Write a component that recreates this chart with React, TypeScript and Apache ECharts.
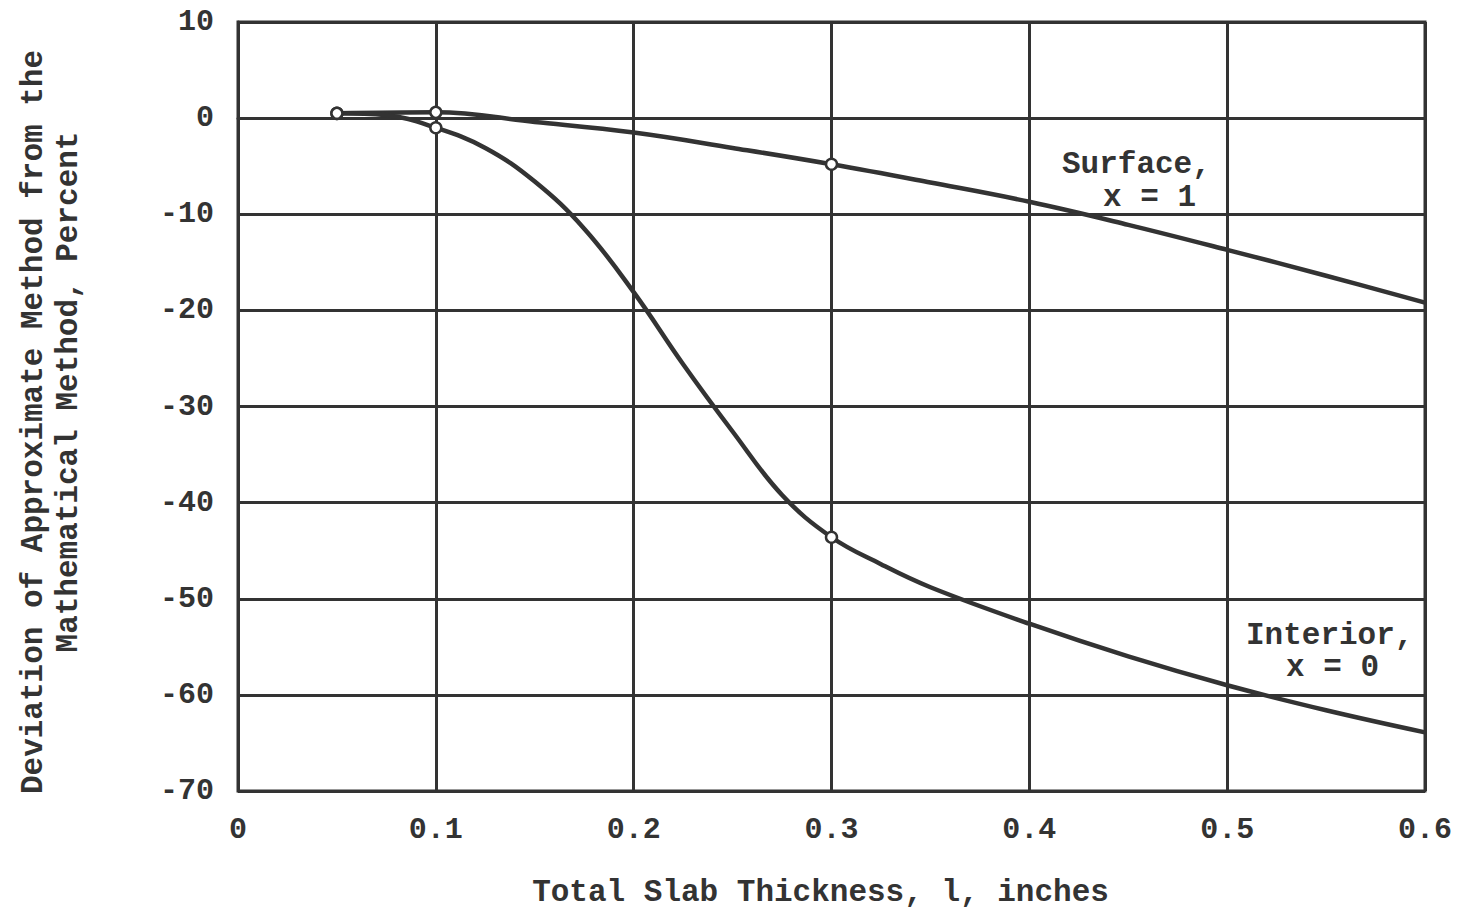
import React, { useEffect, useRef } from "react";
import * as echarts from "echarts";

// Total slab thickness, inches
const surfaceThickness = [0.05, 0.1, 0.15, 0.2, 0.25, 0.3, 0.35, 0.4, 0.45, 0.5, 0.55, 0.6];
// Deviation at the surface (x = 1), percent
const surfaceDeviation = [0.5, 0.6, -0.4, -1.5, -3.1, -4.8, -6.7, -8.7, -11.1, -13.7, -16.4, -19.2];

const interiorThickness = [0.05, 0.075, 0.1, 0.125, 0.15, 0.175, 0.2, 0.225, 0.25, 0.275, 0.3, 0.325, 0.35, 0.4, 0.45, 0.5, 0.55, 0.6];
// Deviation in the interior (x = 0), percent
const interiorDeviation = [0.5, 0.3, -1.0, -3.1, -6.6, -11.5, -18.1, -25.6, -32.6, -39.2, -43.6, -46.4, -48.8, -52.6, -56.0, -59.0, -61.6, -63.9];

// Thicknesses at which computed points are marked with open circles
const computedThickness = [0.05, 0.1, 0.3];

const xTicks = [0, 0.1, 0.2, 0.3, 0.4, 0.5, 0.6];
const yTicks = [10, 0, -10, -20, -30, -40, -50, -60, -70];

const INK = "#333333";
const FONT = "'Liberation Mono', 'DejaVu Sans Mono', monospace";

function toSeriesData(xs: number[], ys: number[]) {
  return xs.map((x, i) => {
    const marked = computedThickness.some((c) => Math.abs(c - x) < 1e-9);
    return {
      value: [x, ys[i]],
      symbol: marked ? "circle" : "none",
      symbolSize: marked ? 11 : 0,
    };
  });
}

export default function App() {
  const ref = useRef<HTMLDivElement>(null);

  useEffect(() => {
    if (!ref.current) return;
    const chart = echarts.init(ref.current, undefined, { renderer: "svg" });

    const lineStyle = { color: INK, width: 4.5 };
    const itemStyle = { color: "#ffffff", borderColor: INK, borderWidth: 2.5 };
    const labelFont = `bold 31px ${FONT}`;

    chart.setOption({
      animation: false,
      backgroundColor: "#ffffff",
      grid: {
        left: 238,
        right: 44,
        top: 22,
        bottom: 124,
        show: true,
        borderColor: INK,
        borderWidth: 3,
      },
      xAxis: {
        type: "value",
        min: xTicks[0],
        max: xTicks[xTicks.length - 1],
        interval: 0.1,
        axisLine: { show: true, lineStyle: { color: INK, width: 3 } },
        axisTick: { show: false },
        splitLine: { show: true, lineStyle: { color: INK, width: 3 } },
        axisLabel: {
          margin: 24,
          color: INK,
          fontFamily: FONT,
          fontSize: 30,
          fontWeight: "bold",
          formatter: (v: number) => (v === 0 ? "0" : v.toFixed(1)),
        },
        name: "Total Slab Thickness, l, inches",
        nameLocation: "middle",
        nameGap: 86,
        nameTextStyle: {
          color: INK,
          fontFamily: FONT,
          fontSize: 31,
          fontWeight: "bold",
          padding: [0, 22, 0, 0],
        },
      },
      yAxis: {
        type: "value",
        min: yTicks[yTicks.length - 1],
        max: yTicks[0],
        interval: 10,
        axisLine: { show: true, lineStyle: { color: INK, width: 3 } },
        axisTick: { show: false },
        splitLine: { show: true, lineStyle: { color: INK, width: 3 } },
        axisLabel: {
          margin: 24,
          color: INK,
          fontFamily: FONT,
          fontSize: 30,
          fontWeight: "bold",
        },
      },
      graphic: [
        {
          type: "text",
          x: 33,
          y: 422,
          rotation: Math.PI / 2,
          style: {
            text: "Deviation of Approximate Method from the",
            fill: INK,
            font: labelFont,
            textAlign: "center",
            textVerticalAlign: "middle",
          },
        },
        {
          type: "text",
          x: 68,
          y: 392,
          rotation: Math.PI / 2,
          style: {
            text: "Mathematical Method, Percent",
            fill: INK,
            font: labelFont,
            textAlign: "center",
            textVerticalAlign: "middle",
          },
        },
        {
          type: "text",
          x: 1062,
          y: 164,
          style: { text: "Surface,", fill: INK, font: labelFont, textAlign: "left", textVerticalAlign: "middle" },
        },
        {
          type: "text",
          x: 1103,
          y: 197,
          style: { text: "x = 1", fill: INK, font: labelFont, textAlign: "left", textVerticalAlign: "middle" },
        },
        {
          type: "text",
          x: 1246,
          y: 635,
          style: { text: "Interior,", fill: INK, font: labelFont, textAlign: "left", textVerticalAlign: "middle" },
        },
        {
          type: "text",
          x: 1286,
          y: 667,
          style: { text: "x = 0", fill: INK, font: labelFont, textAlign: "left", textVerticalAlign: "middle" },
        },
      ],
      series: [
        {
          name: "Surface, x = 1",
          type: "line",
          smooth: 0.4,
          showSymbol: true,
          data: toSeriesData(surfaceThickness, surfaceDeviation),
          lineStyle,
          itemStyle,
          z: 3,
        },
        {
          name: "Interior, x = 0",
          type: "line",
          smooth: 0.4,
          showSymbol: true,
          data: toSeriesData(interiorThickness, interiorDeviation),
          lineStyle,
          itemStyle,
          z: 3,
        },
      ],
    });

    return () => chart.dispose();
  }, []);

  return (
    <div
      ref={ref}
      style={{ position: "fixed", left: 0, top: 0, width: 1469, height: 915, background: "#fff" }}
    />
  );
}
